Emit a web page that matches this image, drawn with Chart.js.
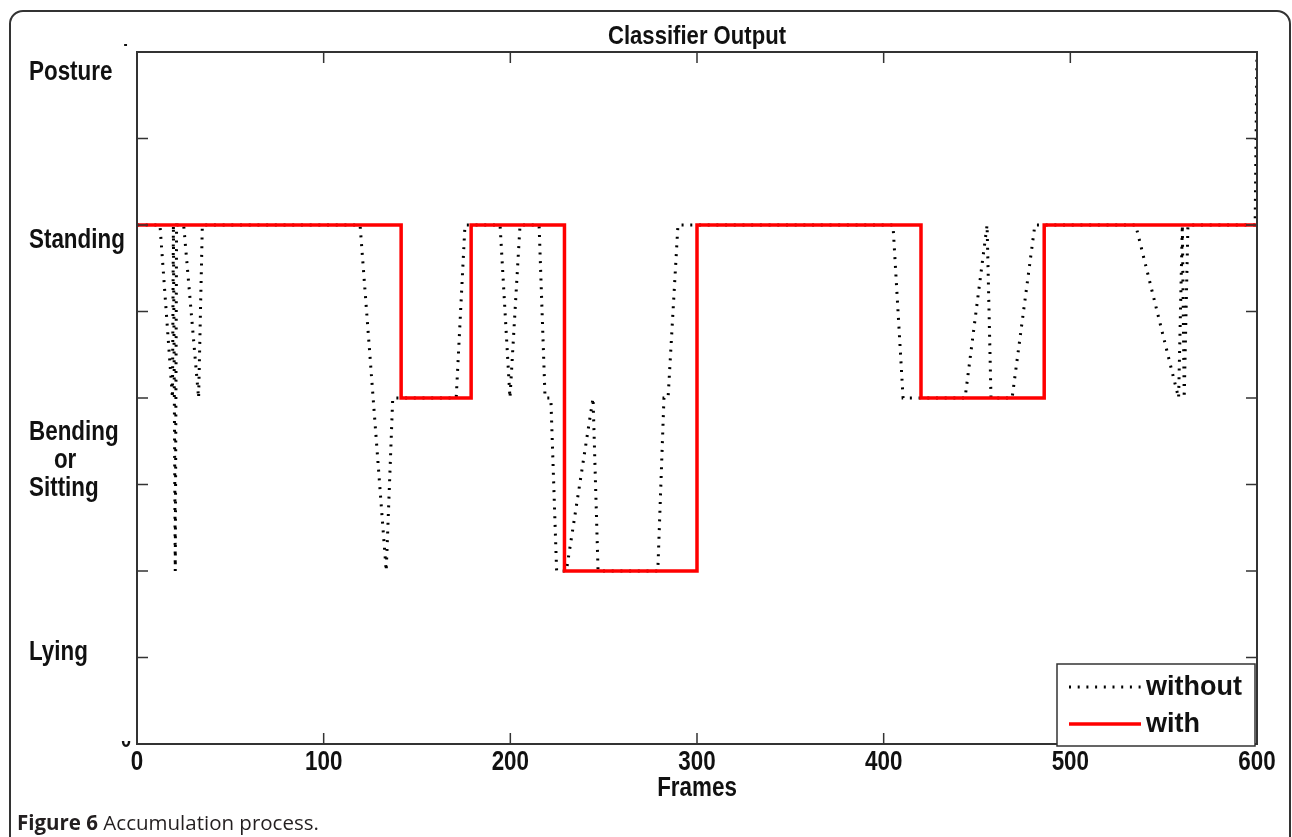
<!DOCTYPE html>
<html>
<head>
<meta charset="utf-8">
<script src="https://cdn.jsdelivr.net/npm/chart.js@4.4.1/dist/chart.umd.min.js"></script>
<style>
body{margin:0;background:#fff;width:1292px;height:837px;overflow:hidden;position:relative;}
.frame{position:absolute;left:9px;top:10px;width:1282px;height:900px;box-sizing:border-box;border:2px solid #333;border-radius:14px;}
#chart{position:absolute;left:0;top:0;}
.caption{position:absolute;left:17px;top:808px;font-family:"Open Sans",sans-serif;font-size:20.5px;color:#231f20;}
</style>
</head>
<body>
<div class="frame"></div>
<canvas id="chart" width="1292" height="837"></canvas>
<div class="caption"><b>Figure 6</b> Accumulation process.</div>
<script>
// raw classifier output (dotted) and accumulated output (red), frame -> posture level
const withoutFrames = [0, 12.3, 19, 19.5, 20.5, 21.2, 25, 33, 35, 119.5, 133.5, 137, 171, 175.7, 194.5, 199.8, 205.2, 215.4, 218.6, 221.7, 224.8, 230, 244.3, 247, 279, 282.3, 284.5, 289.8, 405, 410.4, 443.6, 455.4, 457.5, 468.8, 481, 535, 558, 560, 561, 563, 599, 600];
const withoutValues = [3, 3, 2, 3, 1, 3, 3, 2, 3, 3, 1, 2, 2, 3, 3, 2, 3, 3, 2, 2, 1, 1, 2, 1, 1, 2, 2, 3, 3, 2, 2, 3, 2, 2, 3, 3, 2, 3, 2, 3, 3, 4];
const withFrames = [0, 141.5, 179, 229, 300, 420, 486, 600];
const withValues = [3, 2, 3, 1, 3, 2, 3, 3];

const yLabelText = ['Posture', 'Standing', 'Bending\n    or\nSitting', 'Lying'];
const yLabelValue = [3.88, 2.91, 1.64, 0.53];
const legendText = ['without', 'with'];
const titleText = 'Classifier Output';
const xTitleText = 'Frames';

const FONT = '"Liberation Sans", Arial, sans-serif';
const SQUEEZE = 0.83;   // the original lettering is narrow
const dotDash = [2, 6.7];

function toPoints(xs, ys){
    return xs.map((x, i) => ({x: x, y: ys[i]}));
}

function narrowText(ctx, txt, x, y, size, sx, align){
    ctx.save();
    ctx.font = 'bold ' + size + 'px ' + FONT;
    ctx.fillStyle = '#111';
    ctx.textBaseline = 'middle';
    ctx.textAlign = align;
    ctx.translate(x, y);
    ctx.scale(sx, 1);
    ctx.fillText(txt, 0, 0);
    ctx.restore();
}

const frameBits = {
    id: 'frameBits',
    afterDatasetsDraw(chart){
        const ctx = chart.ctx;
        const a = chart.chartArea;
        const xs = chart.scales.x;
        const ys = chart.scales.y;
        ctx.save();
        ctx.strokeStyle = '#333';
        ctx.lineWidth = 1.5;
        ctx.beginPath();
        xs.ticks.forEach(t => {
            const px = xs.getPixelForValue(t.value);
            ctx.moveTo(px, a.bottom); ctx.lineTo(px, a.bottom - 11);
            ctx.moveTo(px, a.top); ctx.lineTo(px, a.top + 11);
        });
        ys.ticks.forEach(t => {
            const py = ys.getPixelForValue(t.value);
            ctx.moveTo(a.left, py); ctx.lineTo(a.left + 11, py);
            ctx.moveTo(a.right, py); ctx.lineTo(a.right - 11, py);
        });
        ctx.stroke();
        ctx.lineWidth = 2;
        ctx.strokeRect(a.left, a.top, a.right - a.left, a.bottom - a.top);

        // legend box in the lower right corner
        const bx = a.right - 200, by = a.bottom - 80, bw = 198, bh = 82;
        ctx.fillStyle = '#fff';
        ctx.fillRect(bx, by, bw, bh);
        ctx.lineWidth = 1.5;
        ctx.strokeRect(bx, by, bw, bh);
        const ds = chart.data.datasets;
        [23, 60].forEach((dy, i) => {
            ctx.beginPath();
            ctx.strokeStyle = ds[i].borderColor;
            ctx.lineWidth = ds[i].borderWidth;
            ctx.setLineDash(ds[i].borderDash || []);
            ctx.moveTo(bx + 12, by + dy);
            ctx.lineTo(bx + 84, by + dy);
            ctx.stroke();
            ctx.setLineDash([]);
            ctx.fillStyle = '#111';
            ctx.font = 'bold 27px ' + FONT;
            ctx.textBaseline = 'middle';
            ctx.fillText(legendText[i], bx + 89, by + dy + 1);
        });
        ctx.restore();
    },
    afterDraw(chart){
        const ctx = chart.ctx;
        const a = chart.chartArea;
        const xs = chart.scales.x;
        const ys = chart.scales.y;

        narrowText(ctx, titleText, (a.left + a.right) / 2, 37, 26, 0.85, 'center');
        xs.ticks.forEach(t => {
            narrowText(ctx, String(t.value), xs.getPixelForValue(t.value), a.bottom + 19, 27, SQUEEZE, 'center');
        });
        narrowText(ctx, xTitleText, (a.left + a.right) / 2, a.bottom + 45, 27, SQUEEZE, 'center');

        yLabelText.forEach((txt, i) => {
            const lines = txt.split('\n');
            const cy = ys.getPixelForValue(yLabelValue[i]);
            lines.forEach((ln, j) => {
                narrowText(ctx, ln, 29, cy + (j - (lines.length - 1) / 2) * 28, 27, SQUEEZE, 'left');
            });
        });

        // the clipped "4" and "0" of the original y axis
        ctx.save();
        ctx.beginPath();
        ctx.rect(110, a.top - 8, 25, 5);
        ctx.rect(110, a.bottom - 3, 25, 9);
        ctx.clip();
        narrowText(ctx, '4', 123, a.top - 13, 27, SQUEEZE, 'center');
        narrowText(ctx, '0', 126, a.bottom - 3, 22, SQUEEZE, 'center');
        ctx.restore();
    }
};

const chart = new Chart(document.getElementById('chart'), {
    type: 'line',
    data: {
        datasets: [{
            label: 'without',
            data: toPoints(withoutFrames, withoutValues),
            borderColor: '#000',
            borderWidth: 3,
            borderDash: dotDash,
            pointRadius: 0,
            order: 1
        }, {
            label: 'with',
            data: toPoints(withFrames, withValues),
            borderColor: '#ff0000',
            borderWidth: 3.5,
            stepped: 'before',
            pointRadius: 0,
            order: 0
        }]
    },
    options: {
        responsive: false,
        animation: false,
        devicePixelRatio: 1,
        layout: {padding: {left: 137, right: 35, top: 52, bottom: 93}},
        plugins: {
            legend: {display: false},
            tooltip: {enabled: false},
            title: {display: false}
        },
        scales: {
            x: {
                type: 'linear',
                display: false,
                min: 0,
                max: 600,
                ticks: {stepSize: 100}
            },
            y: {
                display: false,
                min: 0,
                max: 4,
                ticks: {stepSize: 0.5}
            }
        }
    },
    plugins: [frameBits]
});
</script>
</body>
</html>
